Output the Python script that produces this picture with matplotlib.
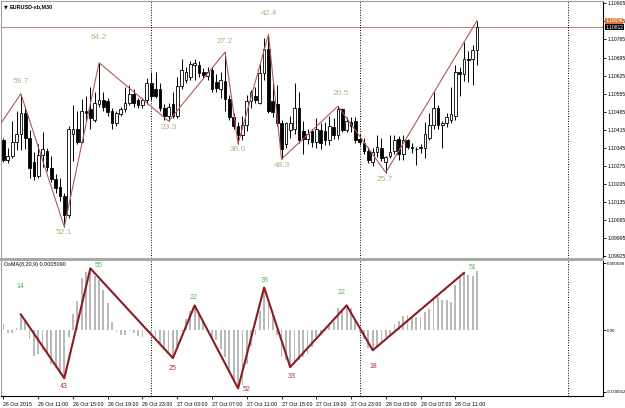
import matplotlib
matplotlib.use('Agg')
import matplotlib.pyplot as plt
import matplotlib.transforms as mtransforms
from matplotlib.patches import Rectangle

# ---------------- data (EURUSD M30, 26 Oct 07:00 .. 28 Oct 13:30) ----------------
opens = [1.10375, 1.10300, 1.10315, 1.10370, 1.10398, 1.10480, 1.10383, 1.10292, 1.10235, 1.10318,
         1.10335, 1.10268, 1.10225, 1.10195, 1.10160, 1.10087, 1.10400, 1.10420, 1.10370, 1.10490,
         1.10495, 1.10455, 1.10515, 1.10530, 1.10525, 1.10490, 1.10440, 1.10475, 1.10495, 1.10520,
         1.10555, 1.10530, 1.10510, 1.10530, 1.10595, 1.10575, 1.10575, 1.10500, 1.10470, 1.10515,
         1.10470, 1.10585, 1.10610, 1.10620, 1.10665, 1.10665, 1.10640, 1.10625, 1.10645, 1.10600,
         1.10575, 1.10605, 1.10535, 1.10465, 1.10430, 1.10395, 1.10435, 1.10525, 1.10545, 1.10520,
         1.10635, 1.10730, 1.10525, 1.10515, 1.10440, 1.10360, 1.10415, 1.10420, 1.10500, 1.10410,
         1.10380, 1.10410, 1.10370, 1.10415, 1.10410, 1.10375, 1.10425, 1.10395, 1.10495, 1.10415,
         1.10445, 1.10450, 1.10380, 1.10365, 1.10335, 1.10290, 1.10330, 1.10345, 1.10290, 1.10315,
         1.10335, 1.10380, 1.10320, 1.10375, 1.10350, 1.10340, 1.10345, 1.10345, 1.10385, 1.10435,
         1.10500, 1.10435, 1.10440, 1.10455, 1.10470, 1.10640, 1.10630, 1.10688, 1.10690, 1.10725]
highs = [1.10385, 1.10345, 1.10451, 1.10489, 1.10555, 1.10509, 1.10413, 1.10330, 1.10360, 1.10405,
         1.10345, 1.10315, 1.10245, 1.10230, 1.10170, 1.10430, 1.10510, 1.10490, 1.10535, 1.10545,
         1.10580, 1.10560, 1.10675, 1.10560, 1.10540, 1.10500, 1.10490, 1.10505, 1.10580, 1.10590,
         1.10575, 1.10540, 1.10540, 1.10615, 1.10640, 1.10640, 1.10595, 1.10515, 1.10520, 1.10560,
         1.10620, 1.10690, 1.10660, 1.10680, 1.10690, 1.10680, 1.10655, 1.10660, 1.10660, 1.10630,
         1.10640, 1.10716, 1.10550, 1.10480, 1.10445, 1.10470, 1.10550, 1.10570, 1.10580, 1.10670,
         1.10770, 1.10785, 1.10600, 1.10590, 1.10455, 1.10445, 1.10470, 1.10595, 1.10560, 1.10450,
         1.10420, 1.10420, 1.10460, 1.10440, 1.10445, 1.10470, 1.10460, 1.10507, 1.10500, 1.10465,
         1.10465, 1.10465, 1.10400, 1.10385, 1.10350, 1.10345, 1.10395, 1.10385, 1.10315, 1.10395,
         1.10395, 1.10390, 1.10395, 1.10380, 1.10365, 1.10350, 1.10360, 1.10445, 1.10480, 1.10560,
         1.10510, 1.10450, 1.10480, 1.10580, 1.10665, 1.10660, 1.10755, 1.10720, 1.10745, 1.10838]
lows = [1.10290, 1.10288, 1.10305, 1.10336, 1.10336, 1.10340, 1.10230, 1.10222, 1.10228, 1.10270,
        1.10255, 1.10215, 1.10170, 1.10140, 1.10040, 1.10075, 1.10295, 1.10360, 1.10365, 1.10450,
        1.10420, 1.10445, 1.10505, 1.10490, 1.10470, 1.10420, 1.10430, 1.10470, 1.10485, 1.10510,
        1.10505, 1.10500, 1.10500, 1.10515, 1.10530, 1.10540, 1.10490, 1.10455, 1.10449, 1.10460,
        1.10460, 1.10575, 1.10595, 1.10610, 1.10610, 1.10620, 1.10615, 1.10610, 1.10560, 1.10560,
        1.10540, 1.10490, 1.10455, 1.10420, 1.10361, 1.10375, 1.10410, 1.10500, 1.10520, 1.10515,
        1.10610, 1.10480, 1.10465, 1.10430, 1.10302, 1.10345, 1.10385, 1.10400, 1.10365, 1.10320,
        1.10360, 1.10350, 1.10345, 1.10340, 1.10355, 1.10355, 1.10380, 1.10380, 1.10405, 1.10405,
        1.10405, 1.10365, 1.10355, 1.10320, 1.10285, 1.10275, 1.10310, 1.10295, 1.10250, 1.10305,
        1.10320, 1.10300, 1.10300, 1.10340, 1.10325, 1.10280, 1.10325, 1.10305, 1.10375, 1.10420,
        1.10420, 1.10345, 1.10425, 1.10440, 1.10455, 1.10545, 1.10605, 1.10600, 1.10590, 1.10665]
closes = [1.10298, 1.10315, 1.10370, 1.10398, 1.10480, 1.10383, 1.10268, 1.10235, 1.10318, 1.10340,
          1.10270, 1.10225, 1.10190, 1.10160, 1.10085, 1.10420, 1.10420, 1.10370, 1.10490, 1.10482,
          1.10460, 1.10520, 1.10530, 1.10505, 1.10485, 1.10440, 1.10480, 1.10495, 1.10520, 1.10555,
          1.10520, 1.10510, 1.10530, 1.10595, 1.10545, 1.10545, 1.10500, 1.10470, 1.10505, 1.10470,
          1.10585, 1.10645, 1.10640, 1.10672, 1.10675, 1.10635, 1.10628, 1.10640, 1.10575, 1.10578,
          1.10610, 1.10535, 1.10465, 1.10430, 1.10395, 1.10435, 1.10525, 1.10560, 1.10530, 1.10635,
          1.10730, 1.10490, 1.10485, 1.10440, 1.10340, 1.10440, 1.10440, 1.10500, 1.10375, 1.10380,
          1.10400, 1.10370, 1.10420, 1.10365, 1.10375, 1.10430, 1.10395, 1.10495, 1.10415, 1.10450,
          1.10430, 1.10375, 1.10370, 1.10335, 1.10300, 1.10330, 1.10350, 1.10305, 1.10310, 1.10330,
          1.10375, 1.10320, 1.10375, 1.10350, 1.10345, 1.10342, 1.10350, 1.10400, 1.10435, 1.10500,
          1.10435, 1.10440, 1.10465, 1.10475, 1.10640, 1.10630, 1.10688, 1.10685, 1.10725, 1.10812]

osma = [0.00005, -0.00003, -0.00003, 0.00002, 0.00014, 0.00008, -0.00008, -0.00023, -0.00021, -0.00018,
        -0.00021, -0.00030, -0.00034, -0.00039, -0.00043, -0.00006, 0.00014, 0.00026, 0.00046, 0.00052,
        0.00055, 0.00048, 0.00045, 0.00036, 0.00024, 0.00007, -0.00002, -0.00004, -0.00004, -0.00001,
        -0.00003, -0.00005, -0.00006, -0.00001, -0.00004, -0.00008, -0.00012, -0.00018, -0.00021, -0.00025,
        -0.00014, -0.00001, 0.00010, 0.00017, 0.00022, 0.00014, 0.00007, -0.00002, -0.00006, -0.00009,
        -0.00017, -0.00024, -0.00037, -0.00046, -0.00052, -0.00049, -0.00030, -0.00014, -0.00004, 0.00017,
        0.00038, 0.00023, 0.00013, -0.00004, -0.00024, -0.00027, -0.00033, -0.00030, -0.00027, -0.00024,
        -0.00021, -0.00015, -0.00006, -0.00004, -0.00001, 0.00004, 0.00007, 0.00020, 0.00018, 0.00022,
        0.00020, 0.00010, -0.00002, -0.00008, -0.00016, -0.00018, -0.00016, -0.00012, -0.00006, -0.00004,
        0.00005, 0.00008, 0.000126, 0.00013, 0.000126, 0.000117, 0.000117, 0.000164, 0.000185, 0.000287,
        0.000293, 0.000272, 0.000264, 0.000249, 0.000404, 0.000469, 0.00051, 0.000492, 0.000483, 0.00053]

zz_bars = [-1, 4, 14, 22, 38, 51, 54, 61, 64, 77, 88, 109]
zz_prices = [1.10430, 1.10555, 1.10040, 1.10675, 1.10449, 1.10716, 1.10361, 1.10785, 1.10302,
             1.10507, 1.10250, 1.10838]
zz_labels = ["", "59.7", "52.1", "64.2", "23.3", "27.2", "36.0", "42.4", "48.3", "20.5", "25.7", "58.8"]

osma_zz_bars = [4, 14, 20, 39, 44, 54, 60, 66, 79, 85, 106]
osma_zz_labels = ["14", "43", "55", "25", "22", "52", "38", "33", "22", "18", "51"]

time_tick_bars = [0, 8, 16, 24, 32, 40, 48, 56, 64, 72, 80, 88, 96, 104]
time_labels = ["26 Oct 2015", "26 Oct 11:00", "26 Oct 15:00", "26 Oct 19:00", "26 Oct 23:00",
               "27 Oct 03:00", "27 Oct 07:00", "27 Oct 11:00", "27 Oct 15:00", "27 Oct 19:00",
               "27 Oct 23:00", "28 Oct 03:00", "28 Oct 07:00", "28 Oct 11:00"]
day_separator_bars = [34, 82, 130]

price_ticks = [1.10905, 1.10835, 1.10765, 1.10695, 1.10625, 1.10555, 1.10485, 1.10415,
               1.10345, 1.10275, 1.10205, 1.10135, 1.10065, 1.09995, 1.09925]
osma_ticks = [0.000598, 0.0, -0.000552]
osma_tick_labels = ["0.000598", "0.00", "-0.000552"]
current_price = 1.10812
ask_price = 1.10838

# ---------------- layout / style ----------------
W, H = 625, 408
FONT = "Liberation Sans"
plt.rcParams['font.family'] = [FONT, 'DejaVu Sans']

# label offsets in pixels (dx, dy-up)
zz_label_off = [(0, 0), (0, 12), (0, -6), (0, 25), (0, -6), (0, 11), (0, -6), (0, 21), (0, -6),
                (3, 13), (-1, -7), (2, 21)]
osma_label_off = [(-1, 28), (0, -8), (8, 3), (0, -10), (-1, 8), (9, -1), (0, 7), (1, -9),
                  (-5, 13), (1, -16), (9, 5)]

fig = plt.figure(figsize=(W / 100, H / 100), dpi=100)
fig.patch.set_facecolor('white')

def fx(px):
    return px / W

def fy(py):
    return 1 - py / H

ax1 = fig.add_axes([fx(1), fy(258), fx(602), (258 - 1) / H])
ax2 = fig.add_axes([fx(1), fy(396), fx(602), (396 - 261) / H])

xmin, xmax = -0.57, 138.0
ax1.set_xlim(xmin, xmax)
ax2.set_xlim(xmin, xmax)
ax1.set_ylim(1.09919, 1.10914)
ax2.set_ylim(-0.000588, 0.000616)

# separator band between panels
fig.patches.append(Rectangle((fx(0), fy(261)), fx(604), 3 / H, transform=fig.transFigure,
                             facecolor='#a8a8a8', edgecolor='none', zorder=5))

# ---------------- candles ----------------
idx = list(range(len(closes)))
ax1.vlines(idx, lows, highs, color='black', lw=0.7, zorder=2)
body_bottom = [min(o, c) for o, c in zip(opens, closes)]
body_h = [max(abs(c - o), 0.000006) for o, c in zip(opens, closes)]
body_col = ['white' if c >= o else 'black' for o, c in zip(opens, closes)]
ax1.bar(idx, body_h, bottom=body_bottom, width=0.62, color=body_col, edgecolor='black',
        linewidth=0.6, zorder=3)

# zigzag on price
zz_color = '#b05a5a'
ax1.plot(zz_bars, zz_prices, color=zz_color, lw=0.8, zorder=4, clip_on=True)
for b, p, t, (dx, dy) in zip(zz_bars, zz_prices, zz_labels, zz_label_off):
    if t:
        ax1.annotate(t, (b, p), xytext=(dx, dy), textcoords='offset pixels', ha='center',
                     va='center', fontsize=6, color='#b8b27c', clip_on=True, zorder=6)

# current price line and labels
ax1.axhline(current_price, color='#b98a80', lw=0.8, zorder=1)
blend = mtransforms.blended_transform_factory(ax1.transAxes, ax1.transData)
ax1.text(1.004, ask_price, "1.10836", transform=blend, fontsize=3.4, color='white', va='center',
         ha='left', bbox=dict(boxstyle='square,pad=0.08', fc='#e0783a', ec='none'), clip_on=False)
ax1.text(1.004, current_price, "1.10812", transform=blend, fontsize=3.6, color='white', va='center',
         ha='left', bbox=dict(boxstyle='square,pad=0.1', fc='black', ec='none'), clip_on=False,
         zorder=10)

# ---------------- OsMA ----------------
ax2.bar(idx, osma, width=0.42, color='#b9b9b9', edgecolor='none', zorder=2)
ozz_vals = [osma[b] for b in osma_zz_bars]
ax2.plot(osma_zz_bars, ozz_vals, color='#8a1c22', lw=1.5, zorder=4)
for b, v, t, (dx, dy) in zip(osma_zz_bars, ozz_vals, osma_zz_labels, osma_label_off):
    col = '#5cb25c' if v > 0 else '#b0303e'
    ax2.annotate(t, (b, v), xytext=(dx, dy), textcoords='offset pixels', ha='center',
                 va='center', fontsize=5, color=col, zorder=6, annotation_clip=False)

# day separators
for a in (ax1, ax2):
    for b in day_separator_bars:
        a.axvline(b, color='black', lw=0.7, ls=(0, (1, 1.6)), zorder=1)

# ---------------- axes styling ----------------
for a in (ax1, ax2):
    a.set_facecolor('white')
    a.spines['left'].set_color('#a0a0a0')
    a.spines['top'].set_color('#a0a0a0')
    a.spines['right'].set_color('black')
    a.spines['bottom'].set_color('black')
    for s in a.spines.values():
        s.set_linewidth(0.8)
    a.yaxis.tick_right()
    a.tick_params(axis='y', which='both', direction='out', length=2, width=0.6, pad=1,
                  labelsize=3.6, colors='black')
ax1.spines['bottom'].set_visible(False)
ax2.spines['top'].set_visible(False)
ax2.tick_params(axis='y', labelsize=3.2)

ax1.set_yticks(price_ticks)
ax1.set_yticklabels([f"{p:.5f}" for p in price_ticks])
ax1.set_xticks([])

ax2.set_yticks(osma_ticks)
ax2.set_yticklabels(osma_tick_labels)
ax2.set_xticks(time_tick_bars)
ax2.set_xticklabels(time_labels)
ax2.tick_params(axis='x', direction='out', length=2.5, width=0.6, pad=1.5, labelsize=3.8)
for lab in ax2.get_xticklabels():
    lab.set_horizontalalignment('left')

# headers
fig.text(fx(4), fy(7), "\u25BC", fontsize=3.5, va='center', ha='left', family='DejaVu Sans')
fig.text(fx(10), fy(7), "EURUSD-xb,M30", fontsize=3.9, va='center', ha='left', weight='bold')
fig.text(fx(4), fy(264.5), "OsMA(8,20,9) 0.0005090", fontsize=3.9, va='center', ha='left')

fig.savefig('out.png', dpi=100, facecolor='white')
